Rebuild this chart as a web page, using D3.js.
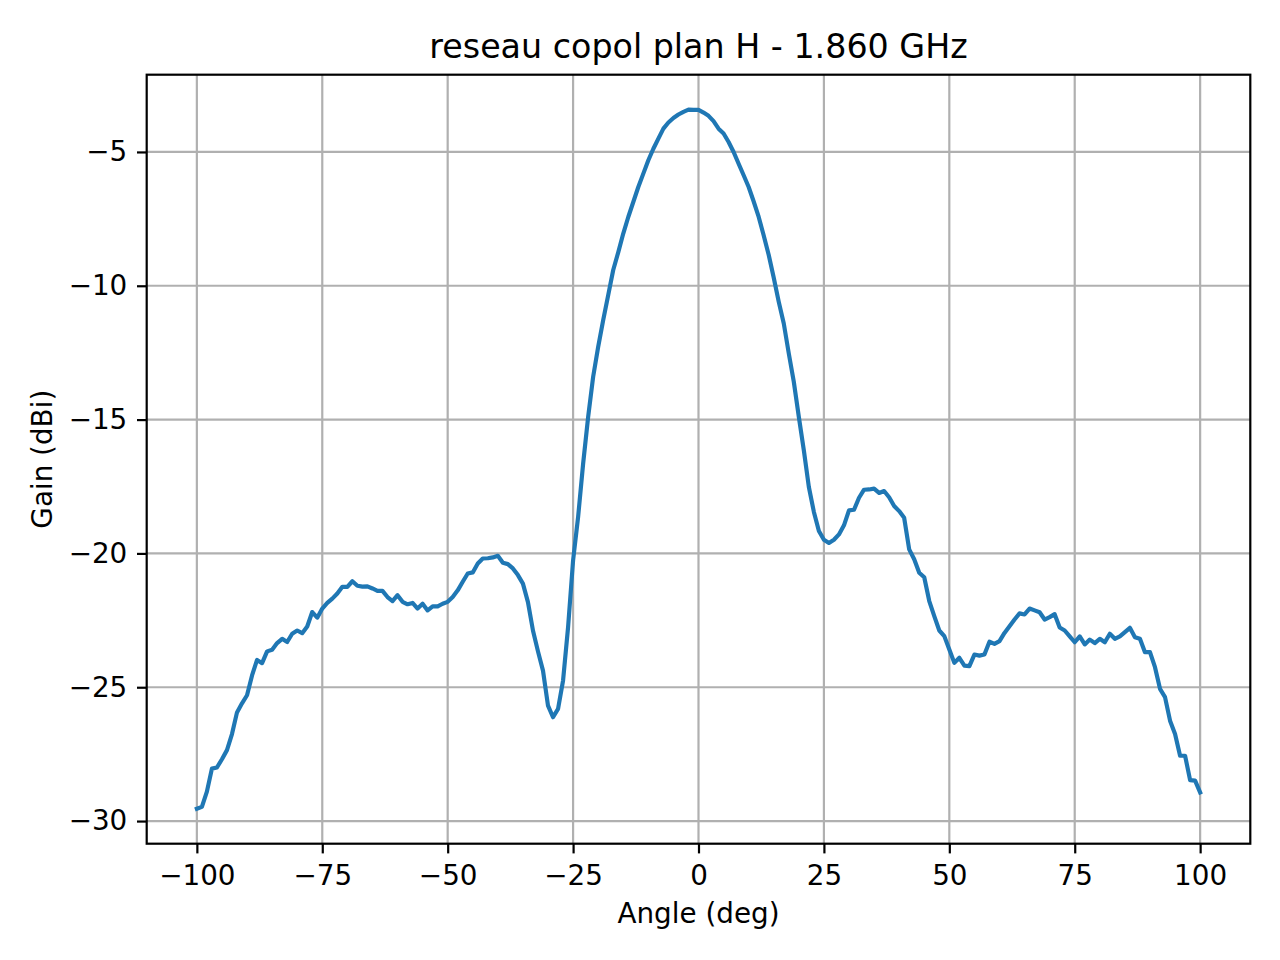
<!DOCTYPE html>
<html>
<head>
<meta charset="utf-8">
<script src="https://cdn.jsdelivr.net/npm/d3@7"></script>
<style>
  body { margin: 0; background: #fff; }
  svg { display: block; font-family: "DejaVu Sans", sans-serif; }
</style>
</head>
<body>
<svg id="chart" width="1280" height="960"></svg>
<script>
// Mesure : gain copolaire, plan H, pas de 1 degré de -100 à 100
const angleStart = -100;
const angleStep = 1;
const gain = [
  -29.54, -29.47, -28.9, -28.04, -28.0, -27.69, -27.35, -26.75, -25.94, -25.6,
  -25.3, -24.56, -23.98, -24.1, -23.66, -23.6, -23.35, -23.19, -23.31, -23.0,
  -22.88, -22.98, -22.73, -22.19, -22.4, -22.06, -21.85, -21.69, -21.5, -21.25,
  -21.25, -21.04, -21.21, -21.24, -21.23, -21.31, -21.4, -21.4, -21.63, -21.78,
  -21.56, -21.81, -21.9, -21.85, -22.06, -21.88, -22.13, -21.98, -21.98, -21.88,
  -21.81, -21.63, -21.38, -21.06, -20.75, -20.71, -20.38, -20.19, -20.18, -20.15,
  -20.09, -20.35, -20.4, -20.56, -20.81, -21.13, -21.82, -22.88, -23.66, -24.38,
  -25.69, -26.12, -25.81, -24.75, -22.76, -20.26, -18.64, -16.65, -14.9, -13.4,
  -12.28, -11.28, -10.35, -9.41, -8.75, -8.05, -7.43, -6.87, -6.31, -5.81,
  -5.31, -4.88, -4.5, -4.13, -3.9, -3.73, -3.6, -3.5, -3.42, -3.43,
  -3.43, -3.53, -3.65, -3.85, -4.13, -4.31, -4.63, -5.0, -5.44, -5.87,
  -6.31, -6.85, -7.43, -8.12, -8.85, -9.7, -10.6, -11.41, -12.53, -13.59,
  -14.9, -16.15, -17.52, -18.45, -19.16, -19.49, -19.61, -19.49, -19.29, -18.95,
  -18.39, -18.37, -17.92, -17.62, -17.61, -17.58, -17.74, -17.67, -17.9, -18.23,
  -18.42, -18.67, -19.85, -20.22, -20.72, -20.89, -21.78, -22.34, -22.88, -23.09,
  -23.59, -24.09, -23.9, -24.19, -24.21, -23.78, -23.82, -23.78, -23.3, -23.38,
  -23.28, -22.97, -22.72, -22.47, -22.24, -22.28, -22.06, -22.13, -22.2, -22.47,
  -22.38, -22.27, -22.77, -22.88, -23.1, -23.32, -23.1, -23.4, -23.22, -23.35,
  -23.19, -23.32, -23.0, -23.19, -23.1, -22.94, -22.78, -23.13, -23.19, -23.69,
  -23.69, -24.25, -25.06, -25.37, -26.25, -26.75, -27.56, -27.56, -28.47, -28.49,
  -28.93,
];
const xTicks = [-100, -75, -50, -25, 0, 25, 50, 75, 100];
const yTicks = [-30, -25, -20, -15, -10, -5];

const titleText = "reseau copol plan H - 1.860 GHz";
const xLabel = "Angle (deg)";
const yLabel = "Gain (dBi)";

const points = gain.map((g, i) => ({ angle: angleStart + i * angleStep, gain: g }));

const box = { left: 146.7, top: 74.7, width: 1103.6, height: 769 };
const fontPx = 27.8;

// marges automatiques de 5 % comme matplotlib
const pad = (ext) => {
  const d = (ext[1] - ext[0]) * 0.05;
  return [ext[0] - d, ext[1] + d];
};

const x = d3
  .scaleLinear()
  .domain(pad(d3.extent(points, (d) => d.angle)))
  .range([box.left, box.left + box.width]);

const y = d3
  .scaleLinear()
  .domain(pad(d3.extent(points, (d) => d.gain)))
  .range([box.top + box.height, box.top]);

const svg = d3.select("#chart");

// grille
const grid = svg.append("g").attr("stroke", "#b0b0b0").attr("stroke-width", 2.2);
grid
  .selectAll("line.gx")
  .data(xTicks)
  .join("line")
  .attr("x1", (d) => x(d))
  .attr("x2", (d) => x(d))
  .attr("y1", box.top)
  .attr("y2", box.top + box.height);
grid
  .selectAll("line.gy")
  .data(yTicks)
  .join("line")
  .attr("y1", (d) => y(d))
  .attr("y2", (d) => y(d))
  .attr("x1", box.left)
  .attr("x2", box.left + box.width);

// courbe
const line = d3
  .line()
  .x((d) => x(d.angle))
  .y((d) => y(d.gain));

svg
  .append("path")
  .datum(points)
  .attr("fill", "none")
  .attr("stroke", "#1f77b4")
  .attr("stroke-width", 4.17)
  .attr("stroke-linejoin", "round")
  .attr("stroke-linecap", "square")
  .attr("d", line);

// axes
const xAxis = svg
  .append("g")
  .attr("transform", `translate(0,${box.top + box.height})`)
  .call(d3.axisBottom(x).tickValues(xTicks).tickSize(9.7).tickPadding(12).tickFormat(d3.format("d")));

const yAxis = svg
  .append("g")
  .attr("transform", `translate(${box.left},0)`)
  .call(d3.axisLeft(y).tickValues(yTicks).tickSize(9.7).tickPadding(9.7).tickFormat(d3.format("d")));

[xAxis, yAxis].forEach((a) => {
  a.select(".domain").remove();
  a.selectAll(".tick line").attr("stroke", "#000").attr("stroke-width", 2.2);
  a.selectAll(".tick text")
    .attr("fill", "#000")
    .style("font-family", "DejaVu Sans")
    .style("font-size", fontPx + "px");
});

// cadre
svg
  .append("rect")
  .attr("x", box.left)
  .attr("y", box.top)
  .attr("width", box.width)
  .attr("height", box.height)
  .attr("fill", "none")
  .attr("stroke", "#000")
  .attr("stroke-width", 2.2);

// textes
svg
  .append("text")
  .attr("x", box.left + box.width / 2)
  .attr("y", box.top - 16.7)
  .attr("text-anchor", "middle")
  .style("font-size", "33.3px")
  .text(titleText);

svg
  .append("text")
  .attr("x", box.left + box.width / 2)
  .attr("y", 923)
  .attr("text-anchor", "middle")
  .style("font-size", fontPx + "px")
  .text(xLabel);

svg
  .append("text")
  .attr("transform", `translate(52,${box.top + box.height / 2}) rotate(-90)`)
  .attr("text-anchor", "middle")
  .style("font-size", fontPx + "px")
  .text(yLabel);
</script>
</body>
</html>
